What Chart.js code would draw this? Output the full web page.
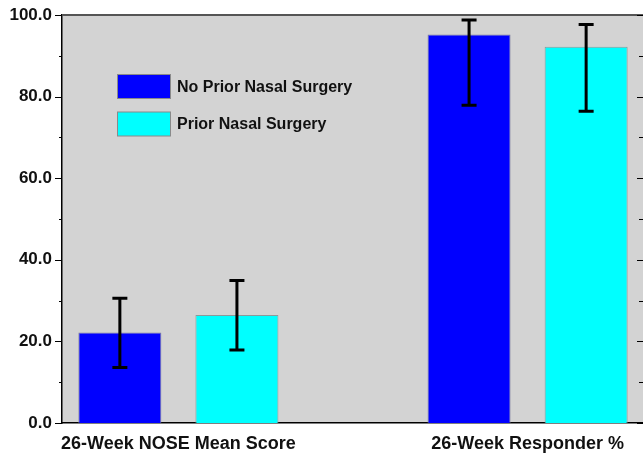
<!DOCTYPE html>
<html>
<head>
<meta charset="utf-8">
<script src="https://cdn.jsdelivr.net/npm/chart.js@4/dist/chart.umd.min.js"></script>
<style>
  html, body { margin: 0; padding: 0; background: #ffffff; }
  #wrap { width: 643px; height: 454px; overflow: hidden; position: relative; }
  canvas { display: block; }
</style>
</head>
<body>
<div id="wrap"><canvas id="c" width="646" height="454"></canvas></div>
<script>
// ---- data ----
const categories = ['26-Week NOSE Mean Score', '26-Week Responder %'];
const seriesNames = ['No Prior Nasal Surgery', 'Prior Nasal Surgery'];
const noPriorValues = [22.2, 95.2];
const noPriorErrLow = [13.6, 77.9];
const noPriorErrHigh = [30.6, 98.8];
const priorValues = [26.5, 92.2];
const priorErrLow = [17.9, 76.4];
const priorErrHigh = [34.9, 97.7];
const yTickLabels = ['0.0', '20.0', '40.0', '60.0', '80.0', '100.0'];

// ---- layout helpers ----
const groupSlots = [1, 4];          // category positions on a 0..5 axis
const FONT = "'Liberation Sans', Arial, sans-serif";
const seriesColors = ['#0000ff', '#00ffff'];

function toPoints(vals) { return vals.map((v, i) => ({ x: groupSlots[i], y: v })); }

const errors = [
  { low: noPriorErrLow, high: noPriorErrHigh },
  { low: priorErrLow, high: priorErrHigh }
];

const bgPlugin = {
  id: 'bg',
  beforeDraw(chart) {
    const { ctx, chartArea: a } = chart;
    ctx.save();
    ctx.fillStyle = '#d3d3d3';
    ctx.fillRect(a.left, a.top, a.right - a.left, a.bottom - a.top);
    ctx.restore();
  },
  afterDraw(chart) {
    const { ctx, chartArea: a } = chart;
    const ys = chart.scales.y;
    ctx.save();
    // top frame line
    ctx.strokeStyle = '#555555';
    ctx.lineWidth = 2;
    ctx.beginPath();
    ctx.moveTo(a.left, a.top);
    ctx.lineTo(a.right, a.top);
    ctx.stroke();
    // ticks left (outward) and right (inward)
    ctx.strokeStyle = '#000000';
    ctx.lineWidth = 1.2;
    ys.ticks.forEach(t => {
      const y = Math.round(ys.getPixelForValue(t.value)) + 0.5;
      const major = t.value % 20 === 0;
      ctx.beginPath();
      ctx.moveTo(a.left - (major ? 7 : 3), y);
      ctx.lineTo(a.left, y);
      ctx.moveTo(a.right - (major ? 7 : 5), y);
      ctx.lineTo(a.right, y);
      ctx.stroke();
    });
    // legend
    ctx.font = 'bold 16px ' + FONT;
    ctx.textBaseline = 'middle';
    ctx.textAlign = 'left';
    chart.data.datasets.forEach((ds, i) => {
      const bx = a.left + 55.5, by = a.top + 59.5 + i * 37.5;
      ctx.fillStyle = ds.backgroundColor;
      ctx.fillRect(bx, by, 53, 24);
      ctx.strokeStyle = '#8a8a8a';
      ctx.lineWidth = 1;
      ctx.strokeRect(bx, by, 53, 24);
      ctx.fillStyle = '#111111';
      ctx.fillText(ds.label, a.left + 115, by + 13);
    });
    ctx.restore();
  }
};

const errPlugin = {
  id: 'errbars',
  afterDatasetsDraw(chart) {
    const { ctx } = chart;
    const ys = chart.scales.y;
    ctx.save();
    ctx.strokeStyle = '#000000';
    ctx.lineWidth = 3;
    chart.data.datasets.forEach((ds, di) => {
      const meta = chart.getDatasetMeta(di);
      meta.data.forEach((bar, j) => {
        const x = bar.x;
        const yh = ys.getPixelForValue(errors[di].high[j]);
        const yl = ys.getPixelForValue(errors[di].low[j]);
        ctx.beginPath();
        ctx.moveTo(x, yh); ctx.lineTo(x, yl);
        ctx.moveTo(x - 7.5, yh); ctx.lineTo(x + 7.5, yh);
        ctx.moveTo(x - 7.5, yl); ctx.lineTo(x + 7.5, yl);
        ctx.stroke();
      });
    });
    ctx.restore();
  }
};

new Chart(document.getElementById('c'), {
  type: 'bar',
  data: {
    datasets: [
      { label: seriesNames[0], data: toPoints(noPriorValues), backgroundColor: seriesColors[0], borderColor: '#7a7a9a', borderWidth: 1 },
      { label: seriesNames[1], data: toPoints(priorValues), backgroundColor: seriesColors[1], borderColor: '#8a9a9a', borderWidth: 1 }
    ]
  },
  options: {
    responsive: false,
    animation: false,
    events: [],
    layout: { padding: { top: 15, right: 2, left: 0, bottom: 0 } },
    categoryPercentage: 0.6705,
    barPercentage: 0.709,
    plugins: { legend: { display: false }, tooltip: { enabled: false } },
    scales: {
      x: {
        type: 'linear',
        offset: false,
        min: 0, max: 5,
        afterBuildTicks: s => { s.ticks = groupSlots.map(v => ({ value: v })); },
        afterFit: s => { s.height = 31; s.paddingLeft = 0; s.paddingRight = 0; },
        grid: { display: false, drawTicks: false },
        border: { display: true, color: '#000000', width: 1.5 },
        ticks: {
          autoSkip: false, maxRotation: 0, minRotation: 0, padding: 10,
          color: '#111111',
          font: { family: FONT, size: 18, weight: 'bold' },
          callback: v => categories[groupSlots.indexOf(v)] || ''
        }
      },
      y: {
        min: 0, max: 100,
        afterFit: s => { s.width = 62; s.paddingTop = 0; s.paddingBottom = 0; },
        grid: { display: false, drawTicks: false },
        border: { display: true, color: '#000000', width: 1.5 },
        ticks: {
          stepSize: 5, padding: 10,
          color: '#111111',
          font: { family: FONT, size: 17, weight: 'bold' },
          callback: v => (v % 20 === 0 ? yTickLabels[v / 20] : '')
        }
      }
    }
  },
  plugins: [bgPlugin, errPlugin]
});
</script>
</body>
</html>
